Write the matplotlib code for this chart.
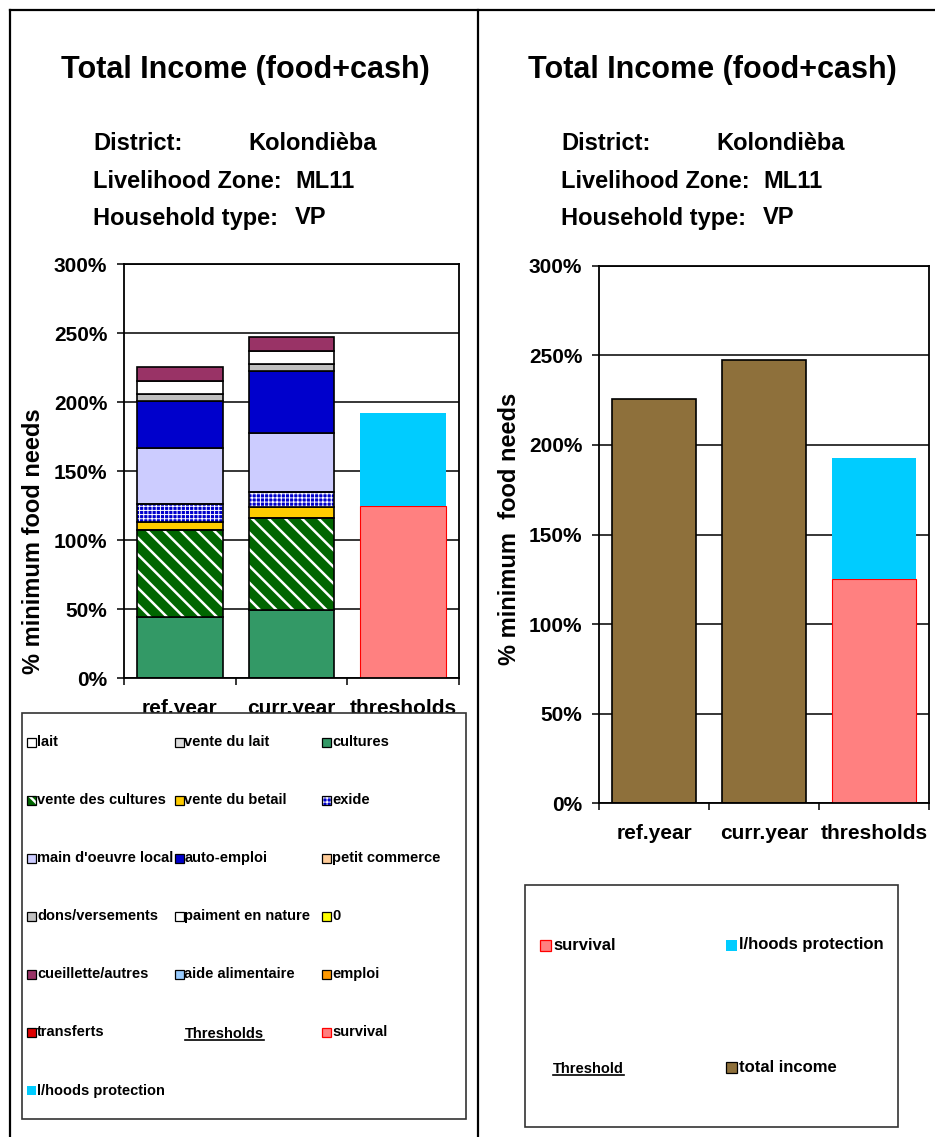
import matplotlib
matplotlib.use("Agg")
import matplotlib.pyplot as plt
from matplotlib.patches import Rectangle
from matplotlib.lines import Line2D
from matplotlib.transforms import Bbox, TransformedBbox
import numpy as np

plt.rcParams["font.family"] = ["Liberation Sans", "DejaVu Sans"]
plt.rcParams["font.weight"] = "bold"
plt.rcParams["hatch.linewidth"] = 1.8

# Données
categories = ["ref.year", "curr.year", "thresholds"]
sources = ["lait", "vente du lait", "cultures", "vente des cultures", "vente du betail",
           "exide", "main d'oeuvre local", "auto-emploi", "petit commerce",
           "dons/versements", "paiment en nature", "0", "cueillette/autres",
           "aide alimentaire", "emploi", "transferts"]
ref_year = [0, 0, 44.7, 62.5, 6.1, 13.3, 40.3, 34.1, 0, 5.0, 9.5, 0, 9.9, 0, 0, 0]
curr_year = [0, 0, 49.5, 66.4, 8.3, 10.8, 42.5, 45.2, 0, 4.8, 9.5, 0, 10.6, 0, 0, 0]
couleurs = ["#FFFFFF", "#DDDDDD", "#339966", "#006600", "#FFCC00", "#0000CC",
            "#CCCCFF", "#0000CC", "#FFCC99", "#C0C0C0", "#FFFFFF", "#FFFF00",
            "#993366", "#99CCFF", "#FF9900", "#DD0000"]
motifs = [None, None, None, "\\\\", None, "++++", None, None, None, None,
          None, None, None, None, None, None]
epaisseur_motif = {"\\\\": 1.8, "++++": 0.7}
seuils = ["survival", "l/hoods protection"]
seuils_val = [125.0, 67.5]
couleurs_seuils = ["#FF8080", "#00CCFF"]
bords_seuils = ["#FF0000", "none"]
couleur_total = "#8E703B"
en_tete = ["District:", "Livelihood Zone:", "Household type:"]
en_tete_val = ["Kolondièba", "ML11", "VP"]

W, H = 935, 1137
fig = plt.figure(figsize=(W / 100, H / 100), dpi=100)


def fx(px):
    return px / W


def fy(py):
    return 1 - py / H


def epaisseur(patchs, motif):
    for p in patchs:
        try:
            p.set_hatch_linewidth(epaisseur_motif[motif])
        except AttributeError:
            pass


def barre(ax, x, h, bas, couleur, motif=None, bord="black", lw=1.2):
    if motif:
        b = ax.bar(x, h, 0.77, bottom=bas, color=couleur, edgecolor="white",
                   hatch=motif, linewidth=0, zorder=2)
        epaisseur(b, motif)
        ax.bar(x, h, 0.77, bottom=bas, fill=False, edgecolor=bord,
               linewidth=lw, zorder=3)
    else:
        ax.bar(x, h, 0.77, bottom=bas, color=couleur, edgecolor=bord,
               linewidth=lw, zorder=2)


def styliser(ax, label, label_xy):
    ax.set_xlim(-0.5, 2.5)
    ax.set_ylim(0, 300)
    ax.set_yticks(range(0, 301, 50))
    ax.set_yticklabels([f"{v}%" for v in range(0, 301, 50)], fontsize=15)
    ax.yaxis.grid(True, color="black", linewidth=1.1)
    ax.set_axisbelow(True)
    ax.set_xticks(range(3))
    ax.set_xticklabels(categories, fontsize=15)
    ax.set_xticks([-0.5, 0.5, 1.5, 2.5], minor=True)
    ax.tick_params(axis="x", which="major", length=0, pad=15)
    ax.tick_params(axis="x", which="minor", length=5, width=1.1)
    ax.tick_params(axis="y", length=5, width=1.1, pad=7)
    for s in ax.spines.values():
        s.set_linewidth(1.3)
        s.set_color("black")
    ax.set_ylabel(label, fontsize=17, fontweight="bold")
    ax.yaxis.set_label_coords(*label_xy)


def carre(x, y, couleur, motif=None, bord="black", taille=9):
    r = Rectangle((fx(x), fy(y + taille / 2)), taille / W, taille / H,
                  transform=fig.transFigure, facecolor=couleur,
                  edgecolor="white" if motif else bord, hatch=motif,
                  linewidth=0 if motif else 0.9, zorder=2)
    fig.patches.append(r)
    if motif:
        epaisseur([r], motif)
        fig.patches.append(Rectangle((fx(x), fy(y + taille / 2)), taille / W, taille / H,
                                     transform=fig.transFigure, fill=False,
                                     edgecolor=bord, linewidth=0.9, zorder=2))


def souligner(t):
    fig.canvas.draw()
    bb = t.get_window_extent().transformed(fig.transFigure.inverted())
    fig.lines.append(Line2D([bb.x0, bb.x1], [bb.y0 + 0.001, bb.y0 + 0.001],
                            transform=fig.transFigure, color="black", linewidth=1.2))


x = np.arange(len(categories))

# Graphique de gauche : revenus par source
ax1 = fig.add_axes([fx(124), fy(678.3), fx(459) - fx(124), fy(264.3) - fy(678.3)])
bas = np.zeros(2)
for nom, r, c, couleur, motif in zip(sources, ref_year, curr_year, couleurs, motifs):
    for i, v in enumerate([r, c]):
        if v > 0:
            barre(ax1, x[i], v, bas[i], couleur, motif)
    bas += [r, c]
b = 0
for v, couleur, bord in zip(seuils_val, couleurs_seuils, bords_seuils):
    barre(ax1, x[2], v, b, couleur, bord=bord, lw=0.8)
    b += v
styliser(ax1, "% minimum food needs", (-0.236, 0.33))

# Graphique de droite : revenu total
ax2 = fig.add_axes([fx(599), fy(803.3), fx(929) - fx(599), fy(265.7) - fy(803.3)])
totaux = [sum(ref_year), sum(curr_year)]
for i, v in enumerate(totaux):
    barre(ax2, x[i], v, 0, couleur_total)
b = 0
for v, couleur, bord in zip(seuils_val, couleurs_seuils, bords_seuils):
    barre(ax2, x[2], v, b, couleur, bord=bord, lw=0.8)
    b += v
styliser(ax2, "% minimum  food needs", (-0.236, 0.51))

# Titres et en-têtes
clip = TransformedBbox(Bbox([[0, fy(232)], [1, 1]]), fig.transFigure)
for dx, cx in [(0, 245), (468, 712)]:
    fig.text(fx(cx), fy(70), "Total Income (food+cash)", ha="center", va="center",
             fontsize=22)
    for k, (a, v) in enumerate(zip(en_tete, en_tete_val)):
        yy = [143, 181, 218][k]
        xv = 248 if k == 0 else 295
        for xt, s in [(93 + dx, a), (xv + dx, v)]:
            t = fig.text(fx(xt), fy(yy), s, ha="left", va="center", fontsize=17)
            t.set_clip_box(clip)
            t.set_clip_on(True)

# Légende de gauche
fig.patches.append(Rectangle((fx(22), fy(1119)), fx(466) - fx(22), fy(713) - fy(1119),
                             transform=fig.transFigure, facecolor="white",
                             edgecolor="#333333", linewidth=1.2, zorder=1))
entrees = list(zip(sources, couleurs, motifs, ["black"] * len(sources)))
entrees.append(("Thresholds", None, None, None))
entrees += list(zip(seuils, couleurs_seuils, [None, None], ["#FF0000", "none"]))
for i, (nom, couleur, motif, bord) in enumerate(entrees):
    ligne, col = divmod(i, 3)
    xm = 27 + col * 147.5
    ym = 742 + ligne * 58.1
    if couleur is None:
        t = fig.text(fx(xm + 158 - 147.5), fy(ym + 2), nom, ha="left", va="center",
                     fontsize=10.5, zorder=3)
        souligner(t)
        continue
    carre(xm, ym, couleur, motif, bord)
    fig.text(fx(xm + 10), fy(ym), nom, ha="left", va="center", fontsize=10.5, zorder=3)

# Légende de droite
fig.patches.append(Rectangle((fx(525), fy(1127)), fx(898) - fx(525), fy(885) - fy(1127),
                             transform=fig.transFigure, facecolor="white",
                             edgecolor="#333333", linewidth=1.2, zorder=1))
droite = [(seuils[0], couleurs_seuils[0], "#FF0000"), (seuils[1], couleurs_seuils[1], "none"),
          ("Threshold", None, None), ("total income", couleur_total, "black")]
for i, (nom, couleur, bord) in enumerate(droite):
    ligne, col = divmod(i, 2)
    xm = [540, 726][col]
    ym = 945 + ligne * 122
    if couleur is None:
        t = fig.text(fx(xm + 13), fy(ym + 2), nom, ha="left", va="center",
                     fontsize=10.5, zorder=3)
        souligner(t)
        continue
    carre(xm, ym, couleur, None, bord, taille=11)
    fig.text(fx(xm + 13), fy(ym), nom, ha="left", va="center", fontsize=12, zorder=3)

# Cadre
for xs, ys in [([10, W], [10, 10]), ([10, 10], [10, H]), ([478, 478], [10, H])]:
    fig.lines.append(Line2D([fx(v) for v in xs], [fy(v) for v in ys],
                            transform=fig.transFigure, color="black", linewidth=1.6))

fig.savefig("out.png", dpi=100)
